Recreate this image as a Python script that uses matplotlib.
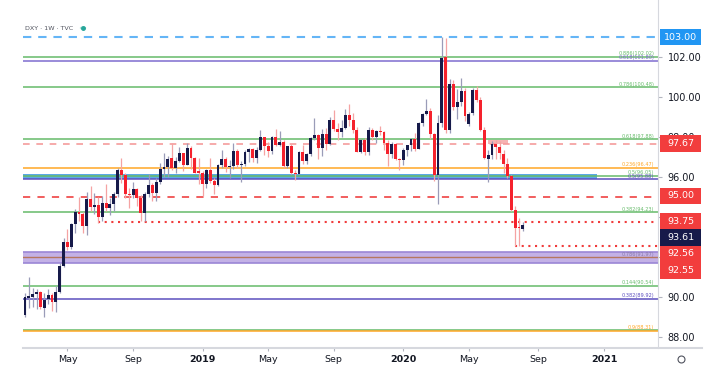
import matplotlib.pyplot as plt
from matplotlib.patches import Rectangle, Circle
from matplotlib.lines import Line2D
import matplotlib.transforms as mtransforms

# Weekly DXY candles, week of 2018-02-19 (index 0) to 2020-08-10
opens = [89.10, 89.95, 90.00, 90.15, 90.25, 89.45, 89.90, 90.10, 89.75, 90.25,
         91.55, 92.75, 92.50, 93.65, 94.25, 94.15, 93.55, 94.90, 94.50, 94.60,
         94.00, 94.70, 94.45, 94.65, 95.15, 96.35, 96.10, 95.15, 95.10, 95.40,
         94.95, 94.20, 95.15, 95.60, 95.20, 95.75, 96.40, 96.50, 96.95, 96.45,
         96.80, 97.20, 96.60, 97.45, 96.95, 96.30, 96.20, 95.65, 96.35, 95.80,
         95.60, 96.60, 96.90, 96.50, 96.55, 97.30, 96.60, 96.65, 97.25, 97.40,
         96.95, 97.35, 98.00, 97.55, 97.30, 98.00, 97.60, 97.75, 96.55, 97.55,
         96.20, 96.15, 97.25, 96.80, 97.15, 97.95, 98.10, 97.45, 98.15, 97.65,
         98.85, 98.40, 98.25, 98.45, 99.10, 98.85, 98.35, 97.25, 97.85, 97.25,
         98.35, 98.00, 98.30, 98.25, 97.70, 97.15, 97.65, 96.90, 96.85, 97.35,
         97.60, 97.90, 97.40, 98.70, 99.15, 99.30, 98.15, 96.10, 98.70, 102.00,
         98.35, 100.65, 99.50, 99.75, 100.30, 98.65, 99.20, 100.35, 99.85, 98.35,
         96.90, 97.10, 97.65, 97.50, 97.15, 96.65, 96.05, 94.35, 93.50, 93.40]
highs = [90.20, 91.00, 90.45, 90.40, 90.30, 90.20, 90.40, 90.20, 90.55, 91.70,
         92.95, 93.40, 93.70, 94.40, 95.00, 94.25, 95.25, 95.55, 95.20, 95.00,
         95.05, 95.65, 94.95, 95.25, 96.45, 96.95, 96.20, 95.45, 95.75, 95.45,
         95.10, 95.25, 96.15, 95.70, 95.95, 96.70, 97.20, 97.05, 97.70, 97.00,
         97.50, 97.20, 97.70, 97.55, 97.00, 96.95, 96.30, 96.40, 96.95, 95.95,
         96.65, 97.35, 97.00, 96.85, 97.70, 97.40, 96.80, 97.35, 97.45, 97.45,
         97.50, 98.35, 98.00, 97.75, 98.05, 98.40, 98.30, 97.85, 97.55, 97.65,
         96.35, 97.30, 97.60, 97.20, 98.00, 98.95, 98.15, 98.40, 98.45, 99.00,
         99.35, 98.70, 98.85, 99.40, 99.65, 99.20, 98.50, 97.90, 97.95, 98.50,
         98.45, 98.35, 98.55, 98.30, 97.85, 97.75, 97.70, 96.95, 97.45, 97.60,
         97.95, 98.20, 98.75, 99.20, 99.90, 99.45, 98.20, 99.10, 103.00, 102.95,
         100.90, 100.85, 100.40, 100.95, 100.45, 99.25, 100.45, 100.55, 100.00, 98.50,
         97.35, 97.80, 97.85, 97.80, 97.35, 96.95, 96.10, 94.55, 93.95, 93.75]
lows = [89.00, 89.45, 89.50, 89.40, 89.40, 89.00, 89.65, 89.30, 89.25, 90.20,
        91.50, 92.35, 92.40, 93.20, 93.80, 93.20, 93.10, 94.30, 94.15, 93.70,
        93.80, 94.30, 94.10, 94.30, 95.00, 95.70, 94.95, 94.45, 94.95, 94.55,
        93.80, 93.80, 95.00, 94.80, 94.80, 95.65, 96.00, 96.00, 96.35, 96.20,
        96.75, 96.30, 96.60, 96.40, 96.20, 95.65, 95.05, 95.45, 95.70, 95.15,
        95.55, 96.45, 96.25, 95.95, 96.40, 96.45, 95.75, 96.55, 96.75, 96.75,
        96.70, 97.30, 97.10, 97.00, 97.15, 97.55, 97.55, 96.45, 96.45, 96.15,
        95.85, 96.15, 96.65, 96.65, 97.05, 97.85, 96.90, 97.05, 97.35, 97.60,
        98.30, 97.85, 98.00, 98.40, 98.55, 98.20, 97.25, 97.20, 97.10, 97.10,
        97.85, 97.70, 98.10, 97.35, 96.55, 96.95, 96.85, 96.35, 96.60, 97.05,
        97.30, 97.30, 97.40, 98.55, 99.10, 97.90, 95.80, 94.65, 98.50, 98.20,
        98.20, 99.35, 98.90, 99.55, 98.80, 98.55, 99.10, 99.75, 98.30, 96.90,
        95.75, 96.90, 96.90, 96.90, 96.20, 95.95, 94.30, 92.56, 92.56, 93.30]
closes = [90.00, 90.05, 90.15, 90.25, 89.50, 89.85, 90.10, 89.75, 90.25, 91.55,
          92.75, 92.50, 93.65, 94.25, 94.15, 93.55, 94.90, 94.50, 94.60, 94.00,
          94.70, 94.45, 94.65, 95.15, 96.35, 96.10, 95.15, 95.10, 95.40, 94.95,
          94.20, 95.15, 95.60, 95.20, 95.75, 96.40, 96.50, 96.90, 96.45, 96.80,
          97.20, 96.60, 97.45, 96.95, 96.20, 96.20, 95.65, 96.35, 95.80, 95.60,
          96.60, 96.90, 96.50, 96.55, 97.30, 96.60, 96.65, 97.25, 97.40, 96.95,
          97.35, 98.00, 97.55, 97.30, 98.00, 97.60, 97.75, 96.55, 97.55, 96.20,
          96.15, 97.25, 96.80, 97.15, 97.95, 98.10, 97.45, 98.15, 97.65, 98.85,
          98.40, 98.25, 98.45, 99.10, 98.85, 98.35, 97.25, 97.85, 97.25, 98.35,
          98.00, 98.30, 98.25, 97.70, 97.15, 97.65, 96.90, 96.85, 97.35, 97.60,
          97.90, 97.40, 98.70, 99.15, 99.30, 98.15, 96.10, 98.70, 101.95, 98.35,
          100.65, 99.50, 99.75, 100.30, 99.05, 99.15, 100.35, 99.85, 98.35, 96.95,
          97.10, 97.65, 97.50, 97.20, 96.65, 96.05, 94.35, 93.45, 93.45, 93.61]

tick_idx = [11, 28, 46, 63, 80, 98, 115, 133, 150]
tick_labels = ['May', 'Sep', '2019', 'May', 'Sep', '2020', 'May', 'Sep', '2021']

# right scale: 94.00 and 92.00 sit under the price boxes
y_ticks = [88, 90, 92, 94, 96, 98, 100, 102]
y_tick_labels = ['88.00', '90.00', '', '', '96.00', '98.00', '100.00', '102.00']

# fib levels: (value, label, color)
fib_levels = [(102.02, '0.886(102.02)', '#66bb6a'),
              (101.80, '0.618(101.80)', '#7e6ccf'),
              (100.48, '0.786(100.48)', '#66bb6a'),
              (97.88, '0.618(97.88)', '#66bb6a'),
              (96.47, '0.236(96.47)', '#ffa726'),
              (96.05, '0.5(96.05)', '#66bb6a'),
              (95.88, '0.5(95.88)', '#5c4fbf'),
              (94.23, '0.382(94.23)', '#66bb6a'),
              (90.54, '0.144(90.54)', '#66bb6a'),
              (89.92, '0.382(89.92)', '#5c4fbf'),
              (88.36, '', '#66bb6a'),
              (88.31, '0.9(88.31)', '#ffa726')]

# price boxes on the right scale: (text, box centre, colour)
price_boxes = [('103.00', 103.0, '#2196f3'),
               ('97.67', 97.67, '#f23d3d'),
               ('95.00', 95.05, '#f23d3d'),
               ('93.75', 93.80, '#f23d3d'),
               ('93.61', 92.97, '#161a4a'),
               ('92.56', 92.15, '#f23d3d'),
               ('92.55', 91.33, '#f23d3d')]

up_col, dn_col = '#161a4a', '#f5222d'
up_wick, dn_wick = '#9a9cb8', '#f5a3a3'

fig = plt.figure(figsize=(7.17, 3.67), dpi=100)
ax = fig.add_axes([23 / 717, 19 / 367, 635 / 717, 348 / 367])
ax.set_xlim(-0.52, 164.0)
ax.set_ylim(87.45, 104.85)

# zones and levels
ax.axhspan(91.72, 92.27, color='#c3b1e6', zorder=1, lw=0)
ax.axhline(92.27, color='#9b86d6', lw=1.2, zorder=1.5)
ax.axhline(91.72, color='#9b86d6', lw=1.2, zorder=1.5)
ax.axhline(91.99, color='#b5775f', lw=1.0, zorder=1.6)
ax.text(163.0, 92.02, '0.786(91.97)', fontsize=3.6, color='#8a7aa8', ha='right', va='bottom')

ax.add_patch(Rectangle((-0.52, 95.9), 148.7, 0.23, color='#5aa9e6', lw=0, zorder=1))
ax.add_patch(Rectangle((120, 97.67), 5.2, 0.2, color='#f6b3b3', lw=0, zorder=1.2))

for val, lab, col in fib_levels:
    ax.axhline(val, color=col, lw=1.1, zorder=1.5)
    if lab:
        ax.text(163.0, val + 0.04, lab, fontsize=3.6, color=col, ha='right', va='bottom')

ax.axhline(103.0, color='#64b5f6', lw=1.5, ls=(0, (4, 3.3)), zorder=1.5)
ax.axhline(97.67, color='#f59c9c', lw=1.2, ls=(0, (4, 4)), zorder=1.5)
ax.axhline(95.0, color='#f05050', lw=1.3, ls=(0, (4, 4)), zorder=1.5)
ax.plot([19, 164], [93.75, 93.75], color='#f03c3c', lw=1.5, ls=(0, (1, 2.2)), zorder=1.5)
ax.plot([127, 164], [92.56, 92.56], color='#f03c3c', lw=1.5, ls=(0, (1, 2.2)), zorder=1.5)

# candles
for i in range(len(closes)):
    o, h, l, c = opens[i], highs[i], lows[i], closes[i]
    up = c >= o
    ax.plot([i, i], [l, h], color=up_wick if up else dn_wick, lw=0.9, zorder=2,
            solid_capstyle='butt')
    bot, top = min(o, c), max(o, c)
    ax.bar(i, max(top - bot, 0.06), bottom=bot, width=0.75,
           color=up_col if up else dn_col, lw=0, zorder=3)

# axes styling
for s in ['top', 'left', 'bottom']:
    ax.spines[s].set_visible(False)
ax.spines['right'].set_color('#d6d8de')
fig.add_artist(Line2D([23 / 717, 702 / 717], [19 / 367, 19 / 367], color='#d6d8de', lw=1.5))

ax.yaxis.tick_right()
ax.set_yticks(y_ticks)
ax.set_yticklabels(y_tick_labels)
ax.tick_params(axis='y', length=3, color='#b2b5be', labelsize=7, labelcolor='#131722', pad=4)
ax.set_xticks(tick_idx)
ax.set_xticklabels(tick_labels)
ax.tick_params(axis='x', length=2, color='#b2b5be', labelsize=6.8, labelcolor='#131722', pad=3)
for t in ax.get_xticklabels():
    if t.get_text().isdigit():
        t.set_fontweight('bold')

trans = mtransforms.blended_transform_factory(ax.transAxes, ax.transData)
for txt, yc, col in price_boxes:
    ax.add_patch(Rectangle((1.003, yc - 0.41), 0.065, 0.82, transform=trans,
                           color=col, lw=0, clip_on=False, zorder=5))
    ax.text(1.0355, yc, txt, transform=trans, fontsize=6.8, color='white',
            ha='center', va='center', clip_on=False, zorder=6)

fig.text(25 / 717, 1 - 28 / 367, 'DXY · 1W · TVC', fontsize=4.6, color='#50535e',
         ha='left', va='center')
fig.add_artist(Circle((83 / 717, 1 - 28 / 367), 0.0045, transform=fig.transFigure,
                      color='#b8e3dd', lw=0))
fig.add_artist(Line2D([83 / 717], [1 - 28 / 367], marker='o', ms=2.5, color='#26a69a', lw=0))
fig.add_artist(Line2D([681 / 717], [1 - 359 / 367], marker='o', ms=5, mfc='none',
                      mec='#50535e', mew=0.8, lw=0))

fig.savefig('out.png', dpi=100)
